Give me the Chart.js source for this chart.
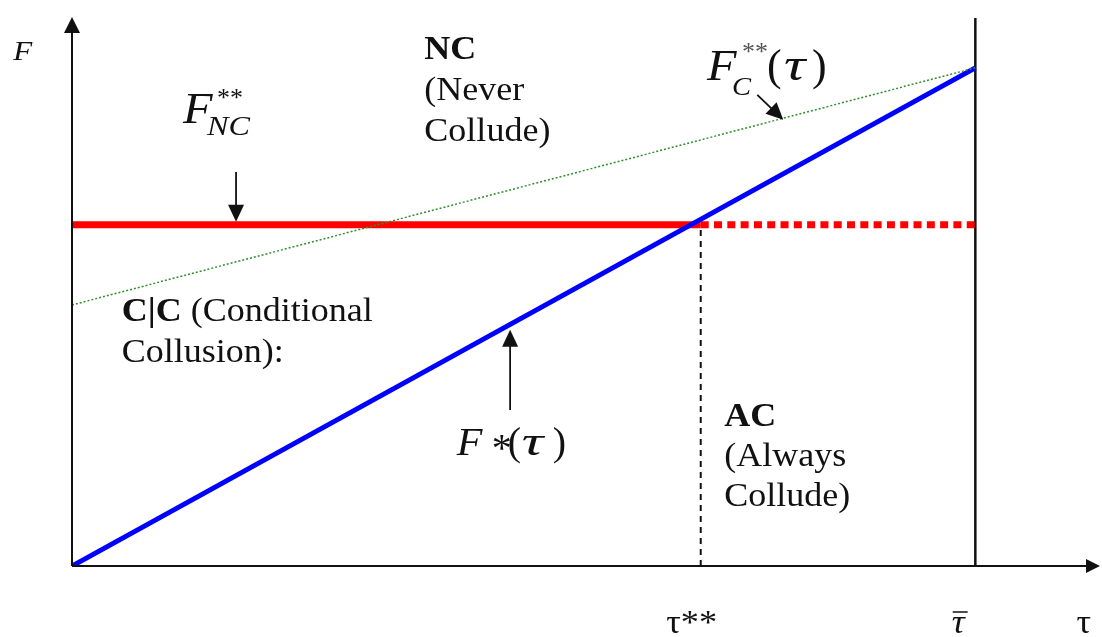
<!DOCTYPE html>
<html>
<head>
<meta charset="utf-8">
<script src="https://cdn.jsdelivr.net/npm/chart.js@4.4.1/dist/chart.umd.min.js"></script>
<style>
  body { margin: 0; background: #fff; }
  #wrap { width: 1102px; height: 637px; }
</style>
</head>
<body>
<div id="wrap"><canvas id="diagram"></canvas></div>
<script>
// tau runs from 0 to tau-bar (= 1), F is scaled so F*(tau-bar) = 1
const tauEnds = [0, 1];            // tau = 0 and tau-bar
const fStar = [0, 1];              // F*(tau), blue
const fCollude = [0.524, 1];       // F_C**(tau), green dotted
const fNC = 0.685;                 // F_NC**, red
const tauStar = 0.696;             // tau**
const tauBar = 1;
const tauMax = 1.138;
const fMax = 1.1;

const tickValues = [0.686, 0.981, 1.12];
const tickLabels = ['τ**', 'τ', 'τ'];
const tickOverbar = [false, true, false];
const tickItalic = [false, true, false];

const SERIF = '"Liberation Serif", "Times New Roman", serif';
const STRETCH = 1.06;   // the original text is set a little wide

// text blocks, anchored in data coordinates; runs use pixel offsets
const texts = [
  { x: -0.065, y: 1.016, runs: [{ t: 'F', f: 'italic 27px', sx: 1.15 }] },
  { x: 0.123, y: 0.889, runs: [
    { t: 'F', f: 'italic 44px', sx: 1.1 },
    { t: '**', f: '26px', ox: 34, oy: -17, sx: 1 },
    { t: 'NC', f: 'italic 28px', ox: 24, oy: 12, sx: 1.15 }] },
  { x: 0.390, y: 1.018, runs: [{ t: 'NC', f: 'bold 34px' }] },
  { x: 0.390, y: 0.935, runs: [{ t: '(Never', f: '34px' }] },
  { x: 0.390, y: 0.853, runs: [{ t: 'Collude)', f: '34px' }] },
  { x: 0.703, y: 0.976, runs: [
    { t: 'F', f: 'italic 44px', sx: 1.1 },
    { t: '**', f: '26px', ox: 35, oy: -20, sx: 1, c: '#555' },
    { t: 'C', f: 'italic 26px', ox: 25, oy: 15, sx: 1.1 },
    { t: '(', f: '44px', ox: 60, sx: 1 },
    { t: 'τ', f: 'italic 46px', ox: 77, sx: 1.3 },
    { t: ')', f: '44px', ox: 105, sx: 1 }] },
  { x: 0.055, y: 0.492, runs: [{ t: 'C|C', f: 'bold 34px' }, { t: ' (Conditional', f: '34px' }] },
  { x: 0.055, y: 0.410, runs: [{ t: 'Collusion):', f: '34px' }] },
  { x: 0.426, y: 0.223, runs: [
    { t: 'F', f: 'italic 40px', sx: 1.05 },
    { t: '*', f: '40px', ox: 35, oy: 6, sx: 1 },
    { t: '(', f: '40px', ox: 51, sx: 1 },
    { t: 'τ', f: 'italic 43px', ox: 65, sx: 1.4 },
    { t: ')', f: '40px', ox: 96, sx: 1 }] },
  { x: 0.722, y: 0.281, runs: [{ t: 'AC', f: 'bold 34px' }] },
  { x: 0.722, y: 0.201, runs: [{ t: '(Always', f: '34px' }] },
  { x: 0.722, y: 0.120, runs: [{ t: 'Collude)', f: '34px' }] }
];

// pointer arrows: tail -> tip, in data coordinates
const pointers = [
  { x0: 0.1816, y0: 0.791, x1: 0.1816, y1: fNC + 0.006 },
  { x0: 0.485, y0: 0.313, x1: 0.485, y1: 0.474 },
  { x0: 0.7586, y0: 0.9458, x1: 0.7874, y1: 0.8956 }
];

function pts(xs, ys) {
  return xs.map((x, i) => ({ x: x, y: ys[i] }));
}

function arrowHead(ctx, x0, y0, x1, y1, len, half) {
  const a = Math.atan2(y1 - y0, x1 - x0);
  ctx.beginPath();
  ctx.moveTo(x1, y1);
  ctx.lineTo(x1 - len * Math.cos(a) + half * Math.sin(a), y1 - len * Math.sin(a) - half * Math.cos(a));
  ctx.lineTo(x1 - len * Math.cos(a) - half * Math.sin(a), y1 - len * Math.sin(a) + half * Math.cos(a));
  ctx.closePath();
  ctx.fill();
}

function arrow(ctx, x0, y0, x1, y1, len, half, width) {
  const a = Math.atan2(y1 - y0, x1 - x0);
  ctx.lineWidth = width;
  ctx.beginPath();
  ctx.moveTo(x0, y0);
  ctx.lineTo(x1 - len * 0.8 * Math.cos(a), y1 - len * 0.8 * Math.sin(a));
  ctx.stroke();
  arrowHead(ctx, x0, y0, x1, y1, len, half);
}

// draws text stretched horizontally, returns drawn width
function wideText(ctx, t, x, y, sx) {
  ctx.save();
  ctx.translate(x, y);
  ctx.scale(sx, 1);
  ctx.fillText(t, 0, 0);
  ctx.restore();
  return ctx.measureText(t).width * sx;
}

const decorations = {
  id: 'decorations',
  afterDraw(chart) {
    const ctx = chart.ctx;
    const xs = chart.scales.x, ys = chart.scales.y;
    const area = chart.chartArea;
    ctx.save();
    ctx.strokeStyle = '#111';
    ctx.fillStyle = '#111';

    // axes with arrow heads
    arrow(ctx, area.left, area.bottom, area.left, area.top - 1, 16, 8, 2);
    arrow(ctx, area.left, area.bottom, area.right, area.bottom, 14, 7, 2);

    pointers.forEach(p => {
      arrow(ctx, xs.getPixelForValue(p.x0), ys.getPixelForValue(p.y0),
        xs.getPixelForValue(p.x1), ys.getPixelForValue(p.y1), 17, 8, 1.8);
    });

    ctx.textBaseline = 'alphabetic';
    ctx.textAlign = 'left';
    texts.forEach(b => {
      const bx = xs.getPixelForValue(b.x), by = ys.getPixelForValue(b.y);
      let cx = bx;
      b.runs.forEach(r => {
        ctx.font = r.f + ' ' + SERIF;
        ctx.fillStyle = r.c || '#111';
        const x = r.ox !== undefined ? bx + r.ox : cx;
        cx = x + wideText(ctx, r.t, x, by + (r.oy || 0), r.sx || STRETCH);
      });
    });

    // tick labels under the tau axis
    tickValues.forEach((v, i) => {
      ctx.font = (tickItalic[i] ? 'italic ' : '') + '33px ' + SERIF;
      ctx.fillStyle = '#111';
      const w = ctx.measureText(tickLabels[i]).width * 1.1;
      const x = xs.getPixelForValue(v), y = ys.getPixelForValue(-0.1345);
      wideText(ctx, tickLabels[i], x - w / 2, y, 1.1);
      if (tickOverbar[i]) {
        ctx.lineWidth = 1.5;
        ctx.beginPath();
        ctx.moveTo(x - w / 2 + 1, y - 21);
        ctx.lineTo(x + w / 2 + 3, y - 21);
        ctx.stroke();
      }
    });
    ctx.restore();
  }
};

new Chart(document.getElementById('diagram'), {
  type: 'scatter',
  data: {
    datasets: [
      { data: pts(tauEnds, fCollude), borderColor: '#2f8f2f', borderWidth: 1.5, borderDash: [2, 2] },
      { data: pts(tauEnds, fStar), borderColor: '#0000ff', borderWidth: 5 },
      { data: pts([0, tauStar], [fNC, fNC]), borderColor: '#ff0000', borderWidth: 7 },
      { data: pts([tauStar, tauBar], [fNC, fNC]), borderColor: '#ff0000', borderWidth: 7, borderDash: [8, 5.3] },
      { data: pts([tauStar, tauStar], [0, fNC]), borderColor: '#111', borderWidth: 2, borderDash: [6, 5] },
      { data: pts([tauBar, tauBar], [0, fMax]), borderColor: '#111', borderWidth: 2.5 }
    ].map(d => Object.assign({ showLine: true, pointRadius: 0, borderCapStyle: 'butt' }, d))
  },
  options: {
    responsive: true,
    maintainAspectRatio: false,
    animation: false,
    layout: { padding: { left: 72, right: 2, top: 18, bottom: 71 } },
    plugins: { legend: { display: false }, tooltip: { enabled: false } },
    scales: {
      x: { type: 'linear', min: 0, max: tauMax, display: false },
      y: { type: 'linear', min: 0, max: fMax, display: false }
    }
  },
  plugins: [decorations]
});
</script>
</body>
</html>
